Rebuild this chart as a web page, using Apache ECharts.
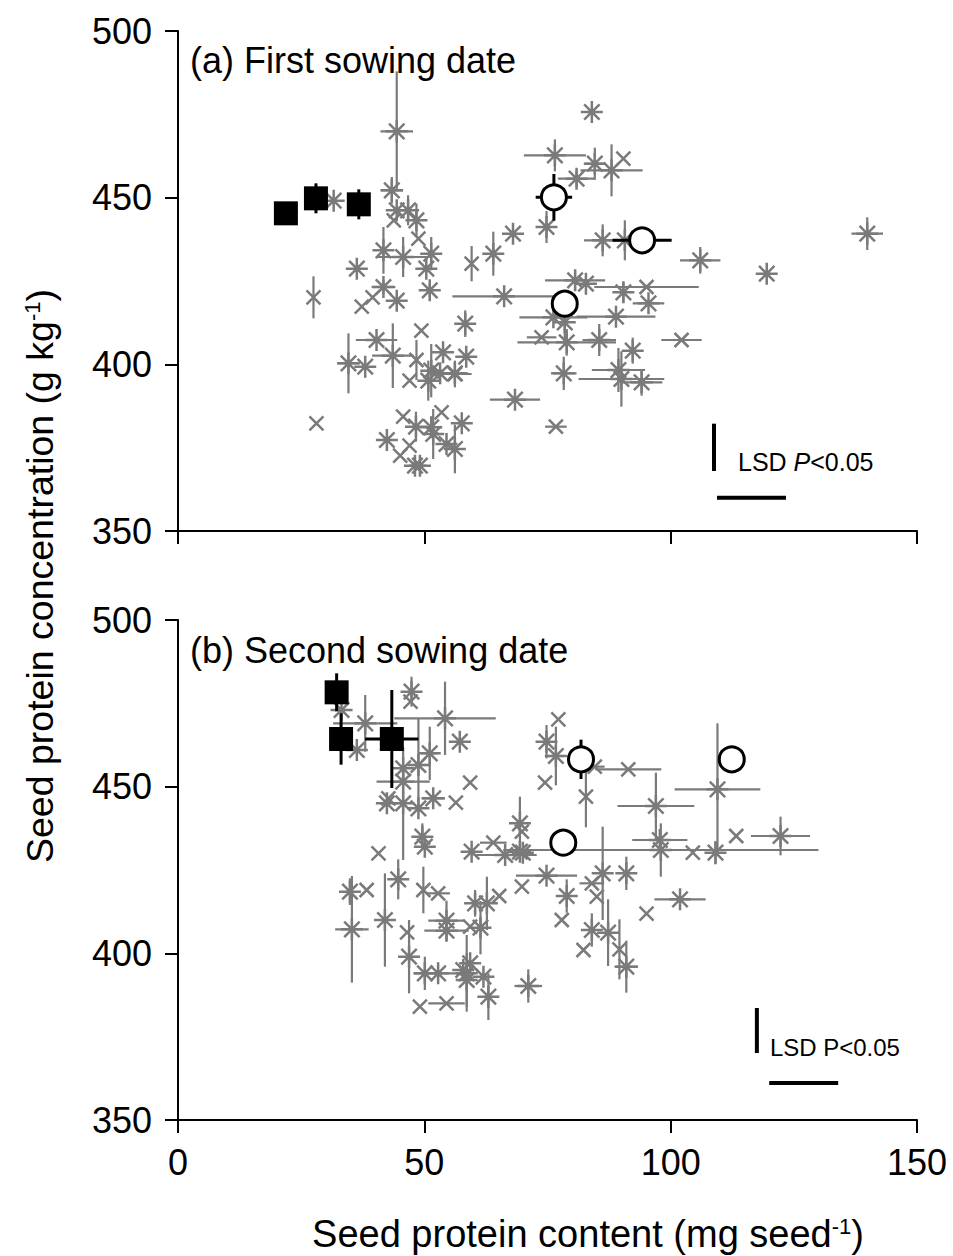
<!DOCTYPE html>
<html><head><meta charset="utf-8">
<script src="https://cdn.jsdelivr.net/npm/echarts/dist/echarts.min.js"></script>
<style>html,body{margin:0;padding:0;background:#fff}#c{width:953px;height:1256px}</style>
</head><body><div id="c"></div>
<script>
// ---- tick values ----
const xTicks = [0, 50, 100, 150];
const yTicks = [350, 400, 450, 500];
const panelTitles = ['(a) First sowing date', '(b) Second sowing date'];
const xTitle = 'Seed protein content (mg seed{sup|-1})';
const yTitle = 'Seed protein concentration (g kg{sup|-1})';

// ---- data: [x, y, xErr, yErr] ----
const aStars = [
  [31.6,449.1,0,0],[44.4,469.9,3.3,18],[43.4,452.2,2.3,4],[44.4,446.2,0,0],[46.7,446.2,0,4.5],
  [48.4,443.2,0,5],[41.7,434.2,0,7],[45.7,432.2,5.4,6],[51.4,433.2,0,5],[50.4,428.7,0,0],
  [36.3,428.7,0,0],[64.0,433.2,0,6.6],[68.0,439.2,0,0],[84.0,475.7,0,0],[76.5,462.7,6.3,4.8],
  [84.6,460.2,2,4.8],[88.0,458.2,6.3,7.8],[80.9,455.7,3.8,2.5],[74.8,441.2,0,4.8],[86.2,437.2,3.8,4.8],
  [90.7,437.2,0,6],[106.0,431.2,4.1,4],[119.5,427.2,0,0],[139.9,439.2,3.2,4.9],[80.6,425.2,6.1,3],
  [82.8,424.2,0,0],[90.4,421.6,0,3],[66.2,420.4,10.5,0],[95.5,418.3,3.2,0],[58.3,412.2,0,4],
  [76.2,414.1,6.9,0],[88.9,414.3,8,0],[78.5,412.6,0,7],[78.9,406.6,10,4],[85.5,407.3,3.4,4.8],
  [92.3,404.1,0,3.9],[58.5,402.3,0,0],[56.2,397.3,2.7,0],[78.3,397.3,2.6,5],[89.4,398.3,5.4,6.6],
  [90.0,395.6,8.7,8.3],[94.1,394.6,4.2,4],[68.4,389.4,5.1,0],[57.6,382.3,0,0],[56.2,374.6,0,7.3],
  [41.7,423.2,2.4,2],[44.4,419.1,0,0],[51.1,422.2,0,2],[40.3,407.3,4.2,0],[34.6,400.3,2.3,9],
  [38.0,399.3,0,0],[43.6,402.6,4.2,9.7],[53.8,403.6,0,0],[51.4,398.1,0,8],[50.8,395.1,0,6],
  [53.2,397.3,0,0],[48.3,381.3,0,4.5],[51.4,381.1,0,0],[42.4,377.3,0,0],[51.8,379.1,0,7.5],
  [54.5,376.1,0,0],[48.1,369.6,0,0],[49.1,369.6,0,0]
];
const aCrosses = [
  [43.8,443.2,0,0],[48.8,437.7,0,0],[59.6,430.2,0,5.3],[90.4,461.7,0,0],[95.1,423.2,10.6,0],
  [27.5,420.1,0,6.3],[28.1,382.3,0,0],[39.5,420.1,0,0],[37.3,417.3,0,0],[49.4,410.1,0,0],
  [48.4,401.3,0,6],[47.0,395.1,0,0],[56.2,397.1,3.4,4],[73.8,408.1,3,0],[102.2,407.3,4.1,0],
  [76.7,381.3,2.2,0],[45.7,384.3,0,0],[53.5,385.6,0,0],[47.0,375.6,0,0],[45.1,372.6,0,0]
];
const aSquares = [[21.9,445.3,0,0],[28.0,449.8,0,4.5],[36.7,448.0,0,4.5]];
const aCircles = [[76.3,450.1,3.7,7],[94.2,437.2,6,3],[78.5,418.2,0,0]];

const bStars = [
  [33.2,473.0,0,0],[38.0,469.0,6.5,8.5],[36.3,461.0,0,0],[47.4,478.5,0,4.5],[54.2,470.5,10.3,11],
  [57.2,463.5,0,0],[51.1,460.0,1.7,8],[48.8,456.5,2.5,14],[45.7,455.5,0,0],[45.7,451.5,5.4,0],
  [42.4,445.0,0,0],[45.7,445.0,0,17],[48.8,443.5,0,0],[51.8,446.5,2.4,0],[49.6,435.0,0,4],
  [50.1,432.0,0,0],[59.6,430.5,0,0],[69.4,439.0,0,8],[69.4,430.5,0,0],[66.4,429.5,6.4,0],
  [74.8,463.5,0,5],[76.7,459.2,1.7,8.8],[97.0,444.2,7.8,10],[109.5,449.2,8.7,19.8],[70.0,430.2,0,0],
  [97.8,434.0,5.6,0],[98.0,431.0,32,8],[109.1,430.2,0,3.5],[122.3,435.2,6,5.8],[86.2,424.0,0,14],
  [91.0,424.0,0,5],[74.8,423.3,6.2,0],[60.3,415.0,0,4],[62.7,415.0,0,8],[78.9,417.2,0,5],
  [101.9,416.2,5.2,0],[84.0,407.0,0,5],[87.3,406.2,0,10],[91.0,396.0,2.4,7.8],[61.4,407.7,0,8],
  [59.3,397.0,0,0],[58.6,394.0,0,11.5],[62.0,393.0,0,0],[63.0,387.0,0,7],[71.1,390.2,2.8,5],
  [34.9,418.5,0,4],[35.3,407.2,3.4,16],[44.7,422.2,0,6],[42.0,410.0,0,14],[54.5,409.8,3.7,6],
  [54.5,406.8,4.5,0],[46.9,399.0,0,11],[50.1,394.0,0,5],[52.8,394.0,5,0],[57.9,395.0,0,0],
  [58.6,392.0,0,8]
];
const bCrosses = [
  [47.2,475.5,0,0],[59.3,451.2,0,0],[42.7,446.5,0,0],[56.4,445.2,0,0],[40.7,430.0,0,0],
  [64.0,433.2,2.7,0],[69.8,436.5,0,0],[74.5,451.2,0,0],[77.2,470.2,0,0],[84.6,456.0,2,0],
  [91.4,455.2,6.7,0],[82.8,447.0,0,9.2],[104.5,430.2,0,0],[113.3,435.2,0,0],[69.8,420.0,0,0],
  [65.2,417.2,0,0],[77.9,410.0,0,0],[84.0,421.0,2.5,0],[85.0,417.0,0,0],[95.1,411.9,0,0],
  [82.3,401.0,0,0],[89.6,401.2,0,9],[38.3,419.0,0,0],[49.8,419.0,0,7],[52.8,418.0,2.4,0],
  [46.5,406.3,0,0],[59.3,408.0,0,0],[49.1,384.0,0,0],[54.5,385.0,3.7,0]
];
const bSquares = [[32.2,478.3,0,5.7],[33.1,464.3,0,7.7],[43.4,464.3,5.4,14.7]];
const bCircles = [[81.8,458.2,0,5.9],[112.4,458.2,0,0],[78.2,433.2,0,0]];

// LSD bars: [x of vertical bar, y0, y1, horizontal x0, x1, horizontal y]
const lsdA = [[108.8,368.0,382.2,109.4,123.4,360.0]];
const lsdB = [[117.5,370.1,383.6,120.0,134.0,361.1]];

// ---- styling ----
const GRAY = '#7a7a7a';
const FONT = '"Liberation Sans", Arial, Helvetica, sans-serif';
const STAR = 'path://M10,0L10,20M0,10L20,10M3,3L17,17M3,17L17,3';
const CROSS = 'path://M0,0L20,20M0,20L20,0';

function errSeries(data, idx, color, w, z) {
  return {
    type: 'custom', xAxisIndex: idx, yAxisIndex: idx, silent: true, z: z,
    encode: {x: 0, y: 1},
    data: data,
    renderItem: function (params, api) {
      const x = api.value(0), y = api.value(1), ex = api.value(2), ey = api.value(3);
      const ch = [];
      const st = {stroke: color, lineWidth: w, opacity: 1};
      if (ex > 0) {
        const p1 = api.coord([x - ex, y]), p2 = api.coord([x + ex, y]);
        ch.push({type: 'line', shape: {x1: p1[0], y1: p1[1], x2: p2[0], y2: p2[1]}, style: st});
      }
      if (ey > 0) {
        const p1 = api.coord([x, y - ey]), p2 = api.coord([x, y + ey]);
        ch.push({type: 'line', shape: {x1: p1[0], y1: p1[1], x2: p2[0], y2: p2[1]}, style: st});
      }
      return {type: 'group', children: ch};
    }
  };
}
function markSeries(data, idx, symbol, size, style, z) {
  return {
    type: 'scatter', xAxisIndex: idx, yAxisIndex: idx, silent: true, z: z,
    symbol: symbol, symbolSize: size,
    data: data.map(d => [d[0], d[1]]),
    itemStyle: Object.assign({opacity: 1}, style), emphasis: {disabled: true}
  };
}
function lsdSeries(data, idx, italic, fs) {
  return {
    type: 'custom', xAxisIndex: idx, yAxisIndex: idx, silent: true, z: 8,
    encode: {x: 0, y: 1},
    data: data,
    renderItem: function (params, api) {
      const v0 = api.coord([api.value(0), api.value(1)]);
      const v1 = api.coord([api.value(0), api.value(2)]);
      const h0 = api.coord([api.value(3), api.value(5)]);
      const h1 = api.coord([api.value(4), api.value(5)]);
      const st = {stroke: '#000', lineWidth: 4};
      return {type: 'group', children: [
        {type: 'line', shape: {x1: v0[0], y1: v0[1], x2: v1[0], y2: v1[1]}, style: st},
        {type: 'line', shape: {x1: h0[0], y1: h0[1], x2: h1[0], y2: h1[1]}, style: st},
        {type: 'text', x: v0[0] + (italic ? 24 : 13), y: v0[1] - (italic ? 9 : 6),
          style: {text: '{n|LSD }{p|P}{n|<0.05}', verticalAlign: 'middle', align: 'left',
            rich: {n: {fontSize: fs, fontFamily: FONT, fill: '#000'},
                   p: {fontSize: fs, fontFamily: FONT, fill: '#000', fontStyle: italic ? 'italic' : 'normal'}}}}
      ]};
    }
  };
}

const axisLineStyle = {color: '#000', width: 2};
function xAxis(idx, showLabel) {
  return {
    gridIndex: idx, type: 'value', min: 0, max: 150, interval: 50,
    axisLine: {show: true, onZero: false, lineStyle: axisLineStyle},
    axisTick: {show: true, inside: false, length: 13, lineStyle: axisLineStyle},
    splitLine: {show: false},
    axisLabel: {show: showLabel, margin: 24, fontSize: 36, color: '#000', fontFamily: FONT,
      formatter: v => xTicks.includes(v) ? String(v) : ''}
  };
}
function yAxis(idx) {
  return {
    gridIndex: idx, type: 'value', min: 350, max: 500, interval: 50,
    axisLine: {show: true, onZero: false, lineStyle: axisLineStyle},
    axisTick: {show: true, inside: false, length: 13, lineStyle: axisLineStyle},
    splitLine: {show: false},
    axisLabel: {show: true, margin: 26, fontSize: 36, color: '#000', fontFamily: FONT,
      formatter: v => yTicks.includes(v) ? String(v) : ''}
  };
}

const starStyle = {color: 'rgba(0,0,0,0)', borderColor: GRAY, borderWidth: 2.5};
const crossStyle = {color: 'rgba(0,0,0,0)', borderColor: GRAY, borderWidth: 2.5};
const sqStyle = {color: '#000', borderColor: '#000', borderWidth: 0};
const cirStyle = {color: '#fff', borderColor: '#000', borderWidth: 3};

const series = [];
[[aStars, aCrosses, aSquares, aCircles, lsdA, true, 25],
 [bStars, bCrosses, bSquares, bCircles, lsdB, false, 24]].forEach((p, i) => {
  series.push(errSeries(p[0], i, GRAY, 2.2, 2));
  series.push(errSeries(p[1], i, GRAY, 2.2, 2));
  series.push(markSeries(p[0], i, STAR, 22, starStyle, 3));
  series.push(markSeries(p[1], i, CROSS, 14, crossStyle, 3));
  series.push(errSeries(p[2], i, '#000', 3, 4));
  series.push(errSeries(p[3], i, '#000', 3, 4));
  series.push(markSeries(p[2], i, 'rect', 24, sqStyle, 6));
  series.push(markSeries(p[3], i, 'circle', 25, cirStyle, 6));
  series.push(lsdSeries(p[4], i, p[5], p[6]));
});

const chart = echarts.init(document.getElementById('c'), null, {renderer: 'svg'});
chart.setOption({
  animation: false,
  backgroundColor: '#fff',
  grid: [
    {left: 178, right: 36, top: 31, height: 500, containLabel: false, outerBoundsMode: 'none'},
    {left: 178, right: 36, top: 620, height: 500, containLabel: false, outerBoundsMode: 'none'}
  ],
  xAxis: [xAxis(0, false), xAxis(1, true)],
  yAxis: [yAxis(0), yAxis(1)],
  graphic: [
    {type: 'text', left: 190, top: 42, silent: true,
      style: {text: panelTitles[0], fontSize: 36, fontFamily: FONT, fill: '#000'}},
    {type: 'text', left: 190, top: 632, silent: true,
      style: {text: panelTitles[1], fontSize: 36, fontFamily: FONT, fill: '#000'}},
    {type: 'text', x: 40, y: 576, rotation: Math.PI / 2, silent: true,
      style: {text: yTitle, fontSize: 37.5, fontFamily: FONT, fill: '#000', align: 'center', verticalAlign: 'middle',
        rich: {sup: {fontSize: 22, fontFamily: FONT, fill: '#000', verticalAlign: 'top'}}}},
    {type: 'text', x: 588, y: 1234, silent: true,
      style: {text: xTitle, fontSize: 38, fontFamily: FONT, fill: '#000', align: 'center', verticalAlign: 'middle',
        rich: {sup: {fontSize: 22, fontFamily: FONT, fill: '#000', verticalAlign: 'top'}}}}
  ],
  series: series
});
</script></body></html>
